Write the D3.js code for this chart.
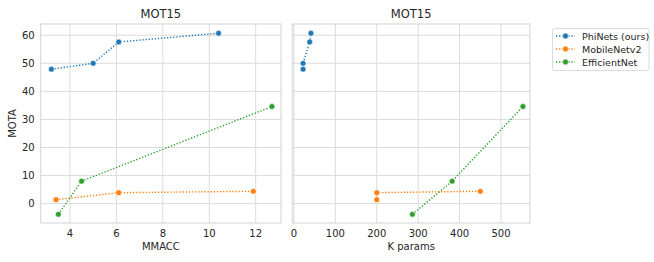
<!DOCTYPE html>
<html>
<head>
<meta charset="utf-8">
<script src="https://cdn.jsdelivr.net/npm/d3@7"></script>
<style>
body{margin:0;background:#fff;}
text{font-family:"DejaVu Sans",sans-serif;fill:#262626;}
</style>
</head>
<body>
<svg id="chart" width="654" height="262"></svg>
<script>
/** series data */
var seriesNames = ['PhiNets (ours)', 'MobileNetv2', 'EfficientNet'];
var seriesColors = ['#1f77b4', '#ff7f0e', '#2ca02c'];
var mmacc = [[3.2, 5.0, 6.1, 10.4], [3.4, 6.1, 11.9], [3.5, 4.5, 12.7]];
var params = [[22, 22, 38, 41], [200, 200, 450], [286, 382, 553]];
var mota = [[47.9, 50.0, 57.6, 60.7], [1.4, 3.9, 4.4], [-3.8, 8.0, 34.6]];
var yTicks = [0, 10, 20, 30, 40, 50, 60];
var xTicksLeft = [4, 6, 8, 10, 12];
var xTicksRight = [0, 100, 200, 300, 400, 500];

var svg = d3.select('#chart');
var plotTop = 24, plotBottom = 223;
var dots = '1.3,1.8';
var y = d3.scaleLinear().domain([-6.9, 64.0]).range([plotBottom, plotTop]);

var panels = [
	{left: 40.7, right: 281, domain: [2.74, 13.09], xs: mmacc, ticks: xTicksLeft, label: 'MMACC', yLabels: true},
	{left: 292.3, right: 530, domain: [-4, 570], xs: params, ticks: xTicksRight, label: 'K params', yLabels: false}
];

panels.forEach(function(p){
	var x = d3.scaleLinear().domain(p.domain).range([p.left, p.right]);
	var g = svg.append('g');

	// grid
	g.selectAll('.vgrid').data(p.ticks).enter().append('line')
	.attr('x1', x).attr('x2', x).attr('y1', plotTop).attr('y2', plotBottom)
	.attr('stroke', '#dcdcdc').attr('stroke-width', 1);
	g.selectAll('.hgrid').data(yTicks).enter().append('line')
	.attr('y1', y).attr('y2', y).attr('x1', p.left).attr('x2', p.right)
	.attr('stroke', '#dcdcdc').attr('stroke-width', 1);

	// frame
	g.append('rect').attr('x', p.left).attr('y', plotTop)
	.attr('width', p.right - p.left).attr('height', plotBottom - plotTop)
	.attr('fill', 'none').attr('stroke', '#d4d4d4').attr('stroke-width', 1);

	// x tick labels
	g.selectAll('.xt').data(p.ticks).enter().append('text')
	.attr('x', x).attr('y', plotBottom + 14).attr('text-anchor', 'middle')
	.attr('font-size', 10).text(function(d){return d;});
	g.append('text').attr('x', (p.left + p.right) / 2).attr('y', plotBottom + 27)
	.attr('text-anchor', 'middle').attr('font-size', 10).text(p.label);

	// title
	g.append('text').attr('x', (p.left + p.right) / 2).attr('y', 18)
	.attr('text-anchor', 'middle').attr('font-size', 11.5).text('MOT15');

	if(p.yLabels){
		g.selectAll('.yt').data(yTicks).enter().append('text')
		.attr('x', p.left - 6).attr('y', function(d){return y(d) + 3.5;})
		.attr('text-anchor', 'end').attr('font-size', 10).text(function(d){return d;});
		g.append('text').attr('transform', 'translate(16,' + ((plotTop + plotBottom) / 2) + ') rotate(-90)')
		.attr('text-anchor', 'middle').attr('font-size', 10).text('MOTA');
	}

	// series
	seriesNames.forEach(function(name, i){
		var pts = p.xs[i].map(function(v, j){return [v, mota[i][j]];});
		g.append('path').datum(pts)
		.attr('d', d3.line().x(function(d){return x(d[0]);}).y(function(d){return y(d[1]);}))
		.attr('fill', 'none').attr('stroke', seriesColors[i])
		.attr('stroke-width', 1.4).attr('stroke-dasharray', dots);
		g.selectAll('.pt' + i).data(pts).enter().append('circle')
		.attr('cx', function(d){return x(d[0]);}).attr('cy', function(d){return y(d[1]);})
		.attr('r', 2.9).attr('fill', seriesColors[i])
		.attr('stroke', '#fff').attr('stroke-width', 0.6);
	});
});

// legend
var lg = svg.append('g');
lg.append('rect').attr('x', 552.5).attr('y', 28.5).attr('width', 96.5).attr('height', 42)
.attr('rx', 2).attr('fill', '#fff').attr('stroke', '#dcdcdc');
seriesNames.forEach(function(name, i){
	var ly = 36 + i * 13;
	lg.append('line').attr('x1', 556).attr('x2', 575).attr('y1', ly).attr('y2', ly)
	.attr('stroke', seriesColors[i]).attr('stroke-width', 1.4).attr('stroke-dasharray', dots);
	lg.append('circle').attr('cx', 565.5).attr('cy', ly).attr('r', 2.9)
	.attr('fill', seriesColors[i]).attr('stroke', '#fff').attr('stroke-width', 0.6);
	lg.append('text').attr('x', 582).attr('y', ly + 3.5).attr('font-size', 9.5).text(name);
});
</script>
</body>
</html>
